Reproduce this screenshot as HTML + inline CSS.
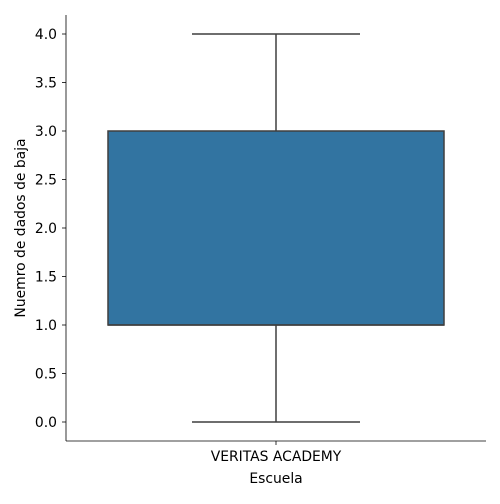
<!DOCTYPE html>
<html><head><meta charset="utf-8"><style>
body{margin:0;background:#fff;font-family:"DejaVu Sans",sans-serif}
svg text{font-family:"DejaVu Sans",sans-serif;fill:#000}
</style></head><body>
<svg width="500" height="500" viewBox="0 0 500 500">
<g id="axes"></g>
</svg>
<script>
const categories=["VERITAS ACADEMY"];
const whiskerLow=[0];
const q1Values=[1];
const medianValues=[1];
const q3Values=[3];
const whiskerHigh=[4];
const yTicks=[0,0.5,1,1.5,2,2.5,3,3.5,4];
const yTickLabels=["0.0","0.5","1.0","1.5","2.0","2.5","3.0","3.5","4.0"];

const NS="http://www.w3.org/2000/svg";
const g=document.getElementById('axes');
const L=66,R=486,T=15,B=441;
const y=v=>422-v*97;
const bandW=(R-L)/categories.length;
const xc=i=>L+bandW*(i+0.5);
const FS=13.9;
function mk(t,a,txt){const e=document.createElementNS(NS,t);for(const k in a)e.setAttribute(k,a[k]);if(txt!==undefined)e.textContent=txt;g.appendChild(e);return e;}

categories.forEach((c,i)=>{
 const cx=xc(i),bw=bandW*0.8,cw=bw*0.5,lc="#3f3f3f";
 let e=mk('line',{x1:cx,x2:cx,y1:y(whiskerLow[i]),y2:y(q1Values[i]),stroke:lc,'stroke-width':1.5});
 
 e=mk('line',{x1:cx,x2:cx,y1:y(q3Values[i]),y2:y(whiskerHigh[i]),stroke:lc,'stroke-width':1.5});
 
 e=mk('rect',{x:cx-bw/2,y:y(q3Values[i]),width:bw,height:y(q1Values[i])-y(q3Values[i]),fill:"#3274a1",stroke:lc,'stroke-width':1.5});
 
 e=mk('line',{x1:cx-bw/2,x2:cx+bw/2,y1:y(medianValues[i]),y2:y(medianValues[i]),stroke:lc,'stroke-width':1.5});
 
 e=mk('line',{x1:cx-cw/2,x2:cx+cw/2,y1:y(whiskerLow[i]),y2:y(whiskerLow[i]),stroke:lc,'stroke-width':1.5});
 
 e=mk('line',{x1:cx-cw/2,x2:cx+cw/2,y1:y(whiskerHigh[i]),y2:y(whiskerHigh[i]),stroke:lc,'stroke-width':1.5});
 
 e=mk('line',{x1:cx,x2:cx,y1:B,y2:B+4,stroke:"#000",'stroke-width':0.8});
 
 e=mk('text',{x:cx,y:B+20,'text-anchor':'middle','font-size':FS},c);
 
});
yTicks.forEach((v,i)=>{
 let e=mk('line',{x1:L-4,x2:L,y1:y(v),y2:y(v),stroke:"#000",'stroke-width':0.8});
 
 e=mk('text',{x:L-9,y:y(v)+5,'text-anchor':'end','font-size':FS},yTickLabels[i]);
 
});
let e=mk('line',{x1:L,x2:L,y1:T,y2:B,stroke:"#000",'stroke-width':0.8});

e=mk('line',{x1:L,x2:R,y1:B,y2:B,stroke:"#000",'stroke-width':0.8});

e=mk('text',{x:(L+R)/2,y:483,'text-anchor':'middle','font-size':FS},"Escuela");

e=mk('text',{x:0,y:0,'text-anchor':'middle','font-size':FS,transform:'translate(25,228) rotate(-90)'},"Nuemro de dados de baja");

</script>
</body></html>
